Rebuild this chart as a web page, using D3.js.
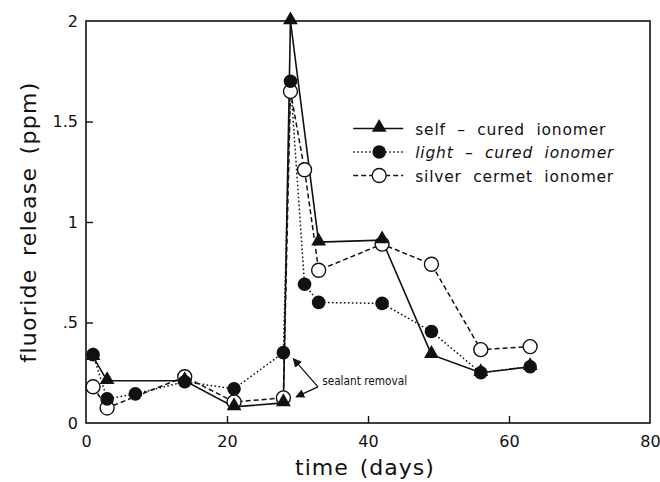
<!DOCTYPE html>
<html>
<head>
<meta charset="utf-8">
<script src="https://cdn.jsdelivr.net/npm/d3@7"></script>
<style>
  body { margin: 0; background: #fff; }
  svg { display: block; }
  text { font-family: "DejaVu Sans", sans-serif; fill: #111; }
</style>
</head>
<body>
<div id="chart"></div>
<script>
// values
var selfDays   = [1, 3, 14, 21, 28, 29, 33, 42, 49, 56, 63];
var selfVals   = [0.33, 0.21, 0.21, 0.08, 0.10, 2.0, 0.90, 0.91, 0.34, 0.25, 0.28];
var lightDays  = [1, 3, 7, 14, 21, 28, 29, 31, 33, 42, 49, 56, 63];
var lightVals  = [0.34, 0.12, 0.145, 0.205, 0.17, 0.35, 1.70, 0.69, 0.60, 0.595, 0.455, 0.25, 0.28];
var silverDays = [1, 3, 14, 21, 28, 29, 31, 33, 42, 49, 56, 63];
var silverVals = [0.18, 0.075, 0.23, 0.105, 0.125, 1.65, 1.26, 0.76, 0.89, 0.79, 0.365, 0.38];
var xTicks = [0, 20, 40, 60, 80];
var yTicks = [0, 0.5, 1, 1.5, 2];
var yTickLabels = ["0", ".5", "1", "1.5", "2"];
var legendNames = ["self  \u2013  cured  ionomer", "light  \u2013  cured  ionomer", "silver  cermet  ionomer"];

var W = 660, H = 482;
var margin = {top: 21, right: 10, bottom: 59, left: 86},
    width = W - margin.left - margin.right,
    height = H - margin.top - margin.bottom;

var svg = d3.select("#chart").append("svg")
  .attr("width", W).attr("height", H)
  .append("g")
  .attr("transform", "translate(" + margin.left + "," + margin.top + ")");

var x = d3.scaleLinear().domain([0, 80]).range([0, width]);
var y = d3.scaleLinear().domain([0, 2]).range([height, 0]);

// frame
svg.append("rect")
  .attr("x", 0).attr("y", 0).attr("width", width).attr("height", height)
  .attr("fill", "none").attr("stroke", "#111").attr("stroke-width", 1.6);

// axes with inward ticks
var xAxis = svg.append("g")
  .attr("transform", "translate(0," + height + ")")
  .call(d3.axisBottom(x).tickValues(xTicks).tickSize(-7).tickPadding(13).tickFormat(d3.format("d")));
var yAxis = svg.append("g")
  .call(d3.axisLeft(y).tickValues(yTicks).tickSize(-7).tickPadding(12)
    .tickFormat(function(d, i){ return yTickLabels[i]; }));

[xAxis, yAxis].forEach(function(a){
  a.select(".domain").remove();
  a.selectAll(".tick line").attr("stroke", "#111").attr("stroke-width", 1.4);
  a.selectAll(".tick text").attr("font-size", 16).style("fill", "#111")
    .attr("font-family", "DejaVu Sans, sans-serif");
});
// no tick marks at the frame edges
xAxis.selectAll(".tick").filter(function(d){ return d === 0 || d === 80; }).select("line").remove();
yAxis.selectAll(".tick").filter(function(d){ return d === 0 || d === 2; }).select("line").remove();
yAxis.selectAll(".tick text").attr("x", -8);

// axis titles
svg.append("text")
  .attr("x", width / 2 - 3).attr("y", height + 52)
  .attr("text-anchor", "middle")
  .attr("font-size", 22).attr("letter-spacing", 1).attr("word-spacing", 3)
  .text("time (days)");
svg.append("text")
  .attr("transform", "translate(" + (-50) + "," + (height / 2) + ") rotate(-90)")
  .attr("text-anchor", "middle")
  .attr("font-size", 22).attr("letter-spacing", 1.3).attr("word-spacing", 4)
  .text("fluoride release (ppm)");

function pairs(days, vals){
  var out = [];
  for (var i = 0; i < days.length; i++) out.push([days[i], vals[i]]);
  return out;
}
var line = d3.line().x(function(d){ return x(d[0]); }).y(function(d){ return y(d[1]); });

var series = [
  {name: legendNames[0], data: pairs(selfDays, selfVals), dash: null, mark: "tri"},
  {name: legendNames[1], data: pairs(lightDays, lightVals), dash: "1.6,2.4", mark: "fill"},
  {name: legendNames[2], data: pairs(silverDays, silverVals), dash: "5,3", mark: "open"}
];

// lines
[series[2], series[1], series[0]].forEach(function(s){
  svg.append("path")
    .attr("d", line(s.data))
    .attr("fill", "none").attr("stroke", "#111")
    .attr("stroke-width", s.mark === "tri" ? 1.6 : 1.5)
    .attr("stroke-dasharray", s.dash);
});

var tri = d3.symbol().type(d3.symbolTriangle).size(95);
function drawMarker(g, kind, cx, cy){
  if (kind === "tri") {
    g.append("path").attr("d", tri())
      .attr("transform", "translate(" + cx + "," + (cy - 1) + ")")
      .attr("fill", "#111");
  } else if (kind === "fill") {
    g.append("circle").attr("cx", cx).attr("cy", cy).attr("r", 6.8).attr("fill", "#111");
  } else {
    g.append("circle").attr("cx", cx).attr("cy", cy).attr("r", 7)
      .attr("fill", "#fff").attr("stroke", "#111").attr("stroke-width", 1.4);
  }
}

// markers: open circles, triangles, filled circles
[series[2], series[0], series[1]].forEach(function(s){
  var g = svg.append("g");
  s.data.forEach(function(d){ drawMarker(g, s.mark, x(d[0]), y(d[1])); });
});

// legend
var legend = svg.append("g").attr("transform", "translate(" + (x(37.9)) + "," + (y(1.465)) + ")");
series.forEach(function(s, i){
  var row = legend.append("g").attr("transform", "translate(0," + (i * 23.5) + ")");
  row.append("line").attr("x1", 0).attr("x2", 50).attr("y1", 0).attr("y2", 0)
    .attr("stroke", "#111").attr("stroke-width", 1.5).attr("stroke-dasharray", s.dash);
  drawMarker(row, s.mark, 26, 0);
  row.append("text").attr("x", 62).attr("y", 6)
    .attr("font-size", 15.5).attr("letter-spacing", 0.8)
    .attr("font-style", i === 1 ? "italic" : "normal")
    .attr("xml:space", "preserve")
    .style("white-space", "pre")
    .text(s.name);
});

// sealant removal annotation
var ax = x(32.9), ay = y(0.18);
svg.append("defs").append("marker")
  .attr("id", "ah").attr("viewBox", "0 0 10 10").attr("refX", 9).attr("refY", 5)
  .attr("markerWidth", 9).attr("markerHeight", 9).attr("orient", "auto-start-reverse")
  .attr("markerUnits", "userSpaceOnUse")
  .append("path").attr("d", "M0,0 L10,5 L0,10 z").attr("fill", "#111");
[[29.4, 0.32], [29.8, 0.13]].forEach(function(t){
  svg.append("line")
    .attr("x1", ax).attr("y1", ay).attr("x2", x(t[0])).attr("y2", y(t[1]))
    .attr("stroke", "#111").attr("stroke-width", 1.3).attr("marker-end", "url(#ah)");
});
svg.append("text")
  .attr("x", x(33.5)).attr("y", y(0.19))
  .attr("font-family", "Liberation Sans Narrow, DejaVu Sans Condensed, sans-serif")
  .attr("font-size", 11.5).attr("textLength", 85).attr("lengthAdjust", "spacingAndGlyphs")
  .text("sealant removal");
</script>
</body>
</html>
